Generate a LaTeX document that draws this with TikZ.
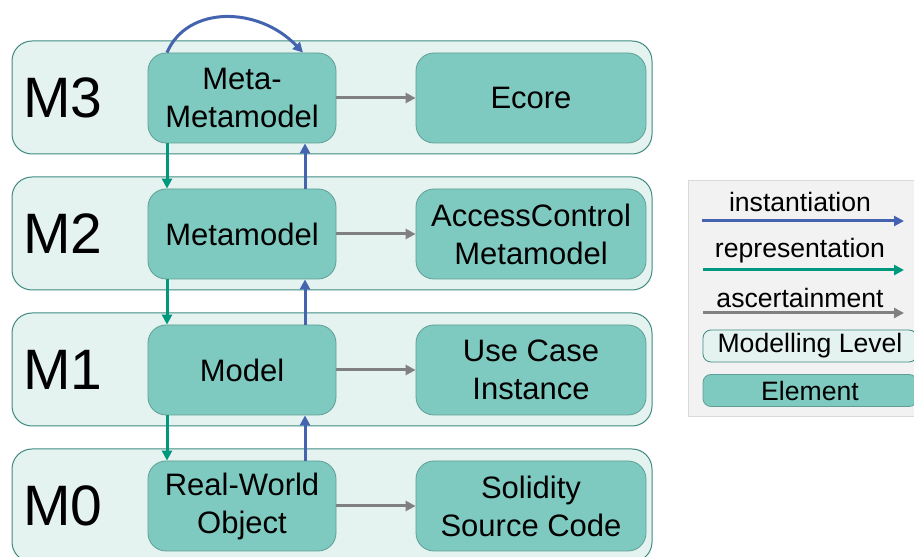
\documentclass[tikz,border=0pt]{standalone}
\usepackage{fontspec}
\setmainfont{Liberation Sans}
\usetikzlibrary{arrows.meta}
\definecolor{elfill}{HTML}{7FCAC0}
\definecolor{eldraw}{HTML}{5E9E95}
\definecolor{lvlfill}{HTML}{E4F2F0}
\definecolor{lvldraw}{HTML}{3F8A7F}
\definecolor{reprgreen}{HTML}{00977F}
\definecolor{instblue}{HTML}{4464B0}
\definecolor{ascgray}{HTML}{808080}
\definecolor{legfill}{HTML}{F2F2F2}
\definecolor{legdraw}{HTML}{D9D9D9}

\begin{document}
\begin{tikzpicture}[x=1pt,y=1pt,>={Triangle[length=10pt,width=10pt]},
                    line width=3pt,node distance=136pt]
  \tikzstyle{level}=[rectangle,rounded corners=20pt,draw=lvldraw,fill=lvlfill,line width=1pt,minimum width=640pt,minimum height=113pt]
  \tikzstyle{element}=[rectangle,rounded corners=18pt,draw=eldraw,fill=elfill,line width=0.8pt,text=black,minimum width=188pt,minimum height=90pt,align=center,inner sep=0pt,font=\fontsize{31}{38}\selectfont]
  \tikzstyle{wide}=[element,minimum width=230pt]
  \tikzstyle{lvlname}=[text=black,font=\fontsize{57}{60}\selectfont]
  \tikzstyle{legtext}=[text=black,font=\fontsize{26.6}{30}\selectfont]
  \tikzstyle{legbox}=[rectangle,rounded corners=8pt,line width=0.8pt,minimum width=214pt,minimum height=32pt,inner sep=0pt,legtext]
  \tikzstyle{inst}=[->,draw=instblue]
  \tikzstyle{repr}=[->,draw=reprgreen]
  \tikzstyle{asc}=[->,draw=ascgray]

  \useasboundingbox (0,0) rectangle (914,557);

  % modelling levels
  \node[level] (l3) at (332,459.5) {};
  \node[level] (l2) at (332,323.5) {};
  \node[level] (l1) at (332,187.5) {};
  \node[level] (l0) at (332,51.5) {};
  \node[lvlname] (n3) at (63,459) {M3};
  \node[lvlname] (n2) at (63,323) {M2};
  \node[lvlname] (n1) at (63,187) {M1};
  \node[lvlname] (n0) at (63,51) {M0};

  % elements
  \node[element] (m3) at (242,459) {Meta-\\Metamodel};
  \node[element] (m2) [below of=m3] {Metamodel};
  \node[element] (m1) [below of=m2] {Model};
  \node[element] (m0) [below of=m1] {Real-World\\Object};
  \node[wide]    (e3) [right of=m3, xshift=153pt] {Ecore};
  \node[wide]    (e2) [right of=m2, xshift=153pt] {AccessControl\\Metamodel};
  \node[wide]    (e1) [right of=m1, xshift=153pt] {Use Case\\Instance};
  \node[wide]    (e0) [right of=m0, xshift=153pt] {Solidity\\Source Code};

  \draw[inst] ([xshift=-75pt]m3.north) .. controls +(20,47) and +(-45,47) .. ([xshift=61pt]m3.north);
  \draw[repr] ([xshift=-75pt]m3.south) -- ([xshift=-75pt]m2.north);
  \draw[repr] ([xshift=-75pt]m2.south) -- ([xshift=-75pt]m1.north);
  \draw[repr] ([xshift=-75pt]m1.south) -- ([xshift=-75pt]m0.north);
  \draw[inst] ([xshift=63pt]m0.north) -- ([xshift=63pt]m1.south);
  \draw[inst] ([xshift=63pt]m1.north) -- ([xshift=63pt]m2.south);
  \draw[inst] ([xshift=63pt]m2.north) -- ([xshift=63pt]m3.south);
  \draw[asc] (m3) -- (e3);
  \draw[asc] (m2) -- (e2);
  \draw[asc] (m1) -- (e1);
  \draw[asc] (m0) -- (e0);

  % legend
  \node[rectangle,draw=legdraw,fill=legfill,line width=0.8pt,minimum width=240pt,minimum height=236pt] (leg) at (808,259) {};
  \node[legtext] (ti) at (800,355) {instantiation};
  \node[legtext] (tr) at (800,306) {representation};
  \node[legtext] (ta) at (800,259) {ascertainment};
  \coordinate (i1) at (702,336);  \coordinate (i2) at (904,336);
  \coordinate (r1) at (703,287);  \coordinate (r2) at (904,287);
  \coordinate (a1) at (703,244);  \coordinate (a2) at (904,244);
  \draw[inst] (i1) -- (i2);
  \draw[repr] (r1) -- (r2);
  \draw[asc]  (a1) -- (a2);
  \node[legbox,draw=lvldraw,fill=lvlfill] (kl) at (810,211) {Modelling Level};
  \node[legbox,draw=eldraw,fill=elfill] (ke) at (810,166.5) {Element};
\end{tikzpicture}
\end{document}
